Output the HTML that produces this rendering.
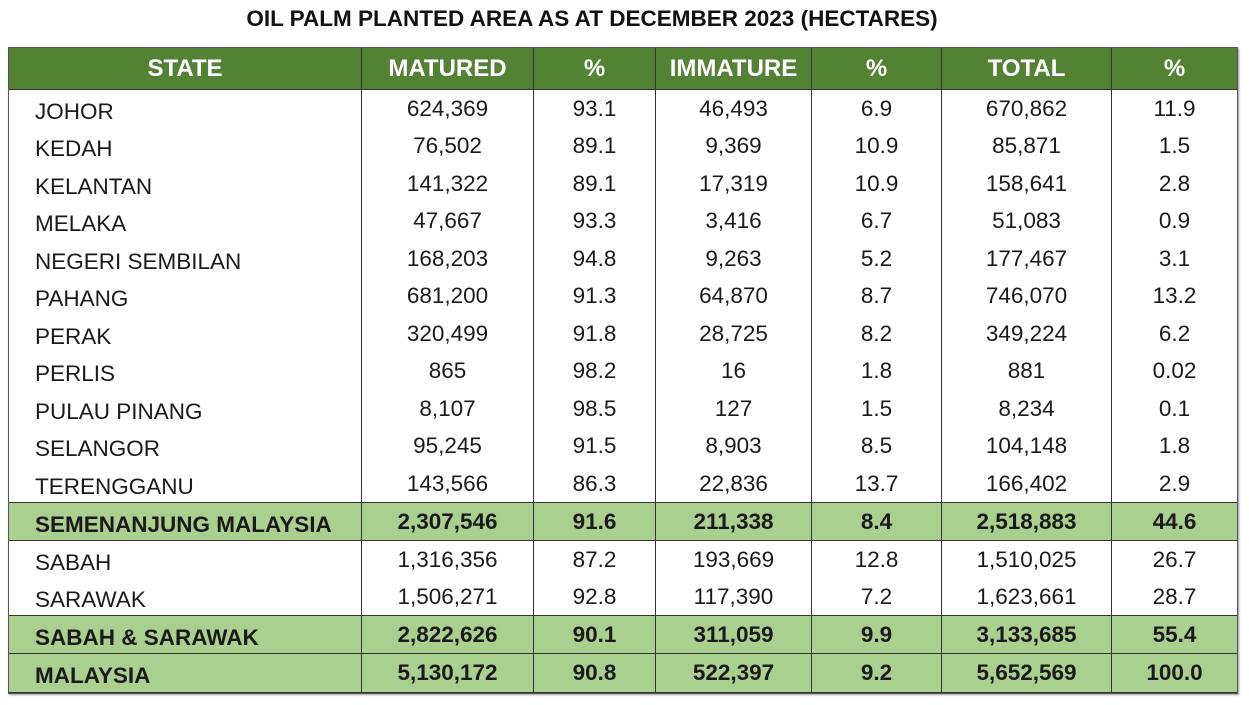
<!DOCTYPE html>
<html><head><meta charset="utf-8"><style>
body{margin:0;width:1249px;height:705px;background:#fff;position:relative;overflow:hidden;font-family:"Liberation Sans",sans-serif;}
.t{position:absolute;left:0;width:1184px;top:6px;text-align:center;font-weight:bold;font-size:22.5px;color:#111;}
.r{position:absolute;left:9px;width:1228px;display:flex;box-sizing:border-box;}
.r div{box-sizing:border-box;display:flex;align-items:center;justify-content:center;font-size:22.5px;color:#1a1a1a;border-right:1.5px solid #333;}
.r div:last-child{border-right:none}
.r div:first-child{justify-content:flex-start;padding-left:26px;padding-top:6px}
.h{background:#548235;border-bottom:1.5px solid #333}
.h div{color:#fff;font-weight:bold;font-size:24px}
.h div:first-child{justify-content:center;padding:0}
.g{background:#a9d08e;border-top:1.5px solid #333;border-bottom:1.5px solid #333}
.g div{font-weight:bold}
.c0{width:353px}.c1{width:172px}.c2{width:122px}.c3{width:156px}.c4{width:130px}.c5{width:170px}.c6{width:125px}
.frame{position:absolute;left:8px;top:47px;width:1230px;height:647px;border:1.5px solid #555;box-sizing:border-box;box-shadow:1px 1px 2px #999}
</style></head><body>
<div class="t">OIL PALM PLANTED AREA AS AT DECEMBER 2023 (HECTARES)</div>
<div class="frame"></div>
<div class="r h" style="top:48px;height:42px"><div class="c0">STATE</div><div class="c1">MATURED</div><div class="c2">%</div><div class="c3">IMMATURE</div><div class="c4">%</div><div class="c5">TOTAL</div><div class="c6">%</div></div>
<div class="r" style="top:90px;height:37.5px"><div class="c0">JOHOR</div><div class="c1">624,369</div><div class="c2">93.1</div><div class="c3">46,493</div><div class="c4">6.9</div><div class="c5">670,862</div><div class="c6">11.9</div></div>
<div class="r" style="top:127.5px;height:37.5px"><div class="c0">KEDAH</div><div class="c1">76,502</div><div class="c2">89.1</div><div class="c3">9,369</div><div class="c4">10.9</div><div class="c5">85,871</div><div class="c6">1.5</div></div>
<div class="r" style="top:165px;height:37.5px"><div class="c0">KELANTAN</div><div class="c1">141,322</div><div class="c2">89.1</div><div class="c3">17,319</div><div class="c4">10.9</div><div class="c5">158,641</div><div class="c6">2.8</div></div>
<div class="r" style="top:202.5px;height:37.5px"><div class="c0">MELAKA</div><div class="c1">47,667</div><div class="c2">93.3</div><div class="c3">3,416</div><div class="c4">6.7</div><div class="c5">51,083</div><div class="c6">0.9</div></div>
<div class="r" style="top:240px;height:37.5px"><div class="c0">NEGERI SEMBILAN</div><div class="c1">168,203</div><div class="c2">94.8</div><div class="c3">9,263</div><div class="c4">5.2</div><div class="c5">177,467</div><div class="c6">3.1</div></div>
<div class="r" style="top:277.5px;height:37.5px"><div class="c0">PAHANG</div><div class="c1">681,200</div><div class="c2">91.3</div><div class="c3">64,870</div><div class="c4">8.7</div><div class="c5">746,070</div><div class="c6">13.2</div></div>
<div class="r" style="top:315px;height:37.5px"><div class="c0">PERAK</div><div class="c1">320,499</div><div class="c2">91.8</div><div class="c3">28,725</div><div class="c4">8.2</div><div class="c5">349,224</div><div class="c6">6.2</div></div>
<div class="r" style="top:352.5px;height:37.5px"><div class="c0">PERLIS</div><div class="c1">865</div><div class="c2">98.2</div><div class="c3">16</div><div class="c4">1.8</div><div class="c5">881</div><div class="c6">0.02</div></div>
<div class="r" style="top:390px;height:37.5px"><div class="c0">PULAU PINANG</div><div class="c1">8,107</div><div class="c2">98.5</div><div class="c3">127</div><div class="c4">1.5</div><div class="c5">8,234</div><div class="c6">0.1</div></div>
<div class="r" style="top:427.5px;height:37.5px"><div class="c0">SELANGOR</div><div class="c1">95,245</div><div class="c2">91.5</div><div class="c3">8,903</div><div class="c4">8.5</div><div class="c5">104,148</div><div class="c6">1.8</div></div>
<div class="r" style="top:465px;height:37px"><div class="c0">TERENGGANU</div><div class="c1">143,566</div><div class="c2">86.3</div><div class="c3">22,836</div><div class="c4">13.7</div><div class="c5">166,402</div><div class="c6">2.9</div></div>
<div class="r g" style="top:502px;height:39px"><div class="c0">SEMENANJUNG MALAYSIA</div><div class="c1">2,307,546</div><div class="c2">91.6</div><div class="c3">211,338</div><div class="c4">8.4</div><div class="c5">2,518,883</div><div class="c6">44.6</div></div>
<div class="r" style="top:541px;height:37px"><div class="c0">SABAH</div><div class="c1">1,316,356</div><div class="c2">87.2</div><div class="c3">193,669</div><div class="c4">12.8</div><div class="c5">1,510,025</div><div class="c6">26.7</div></div>
<div class="r" style="top:578px;height:37px"><div class="c0">SARAWAK</div><div class="c1">1,506,271</div><div class="c2">92.8</div><div class="c3">117,390</div><div class="c4">7.2</div><div class="c5">1,623,661</div><div class="c6">28.7</div></div>
<div class="r g" style="top:615px;height:39px"><div class="c0">SABAH &amp; SARAWAK</div><div class="c1">2,822,626</div><div class="c2">90.1</div><div class="c3">311,059</div><div class="c4">9.9</div><div class="c5">3,133,685</div><div class="c6">55.4</div></div>
<div class="r g" style="top:653px;height:40px"><div class="c0">MALAYSIA</div><div class="c1">5,130,172</div><div class="c2">90.8</div><div class="c3">522,397</div><div class="c4">9.2</div><div class="c5">5,652,569</div><div class="c6">100.0</div></div>
</body></html>
